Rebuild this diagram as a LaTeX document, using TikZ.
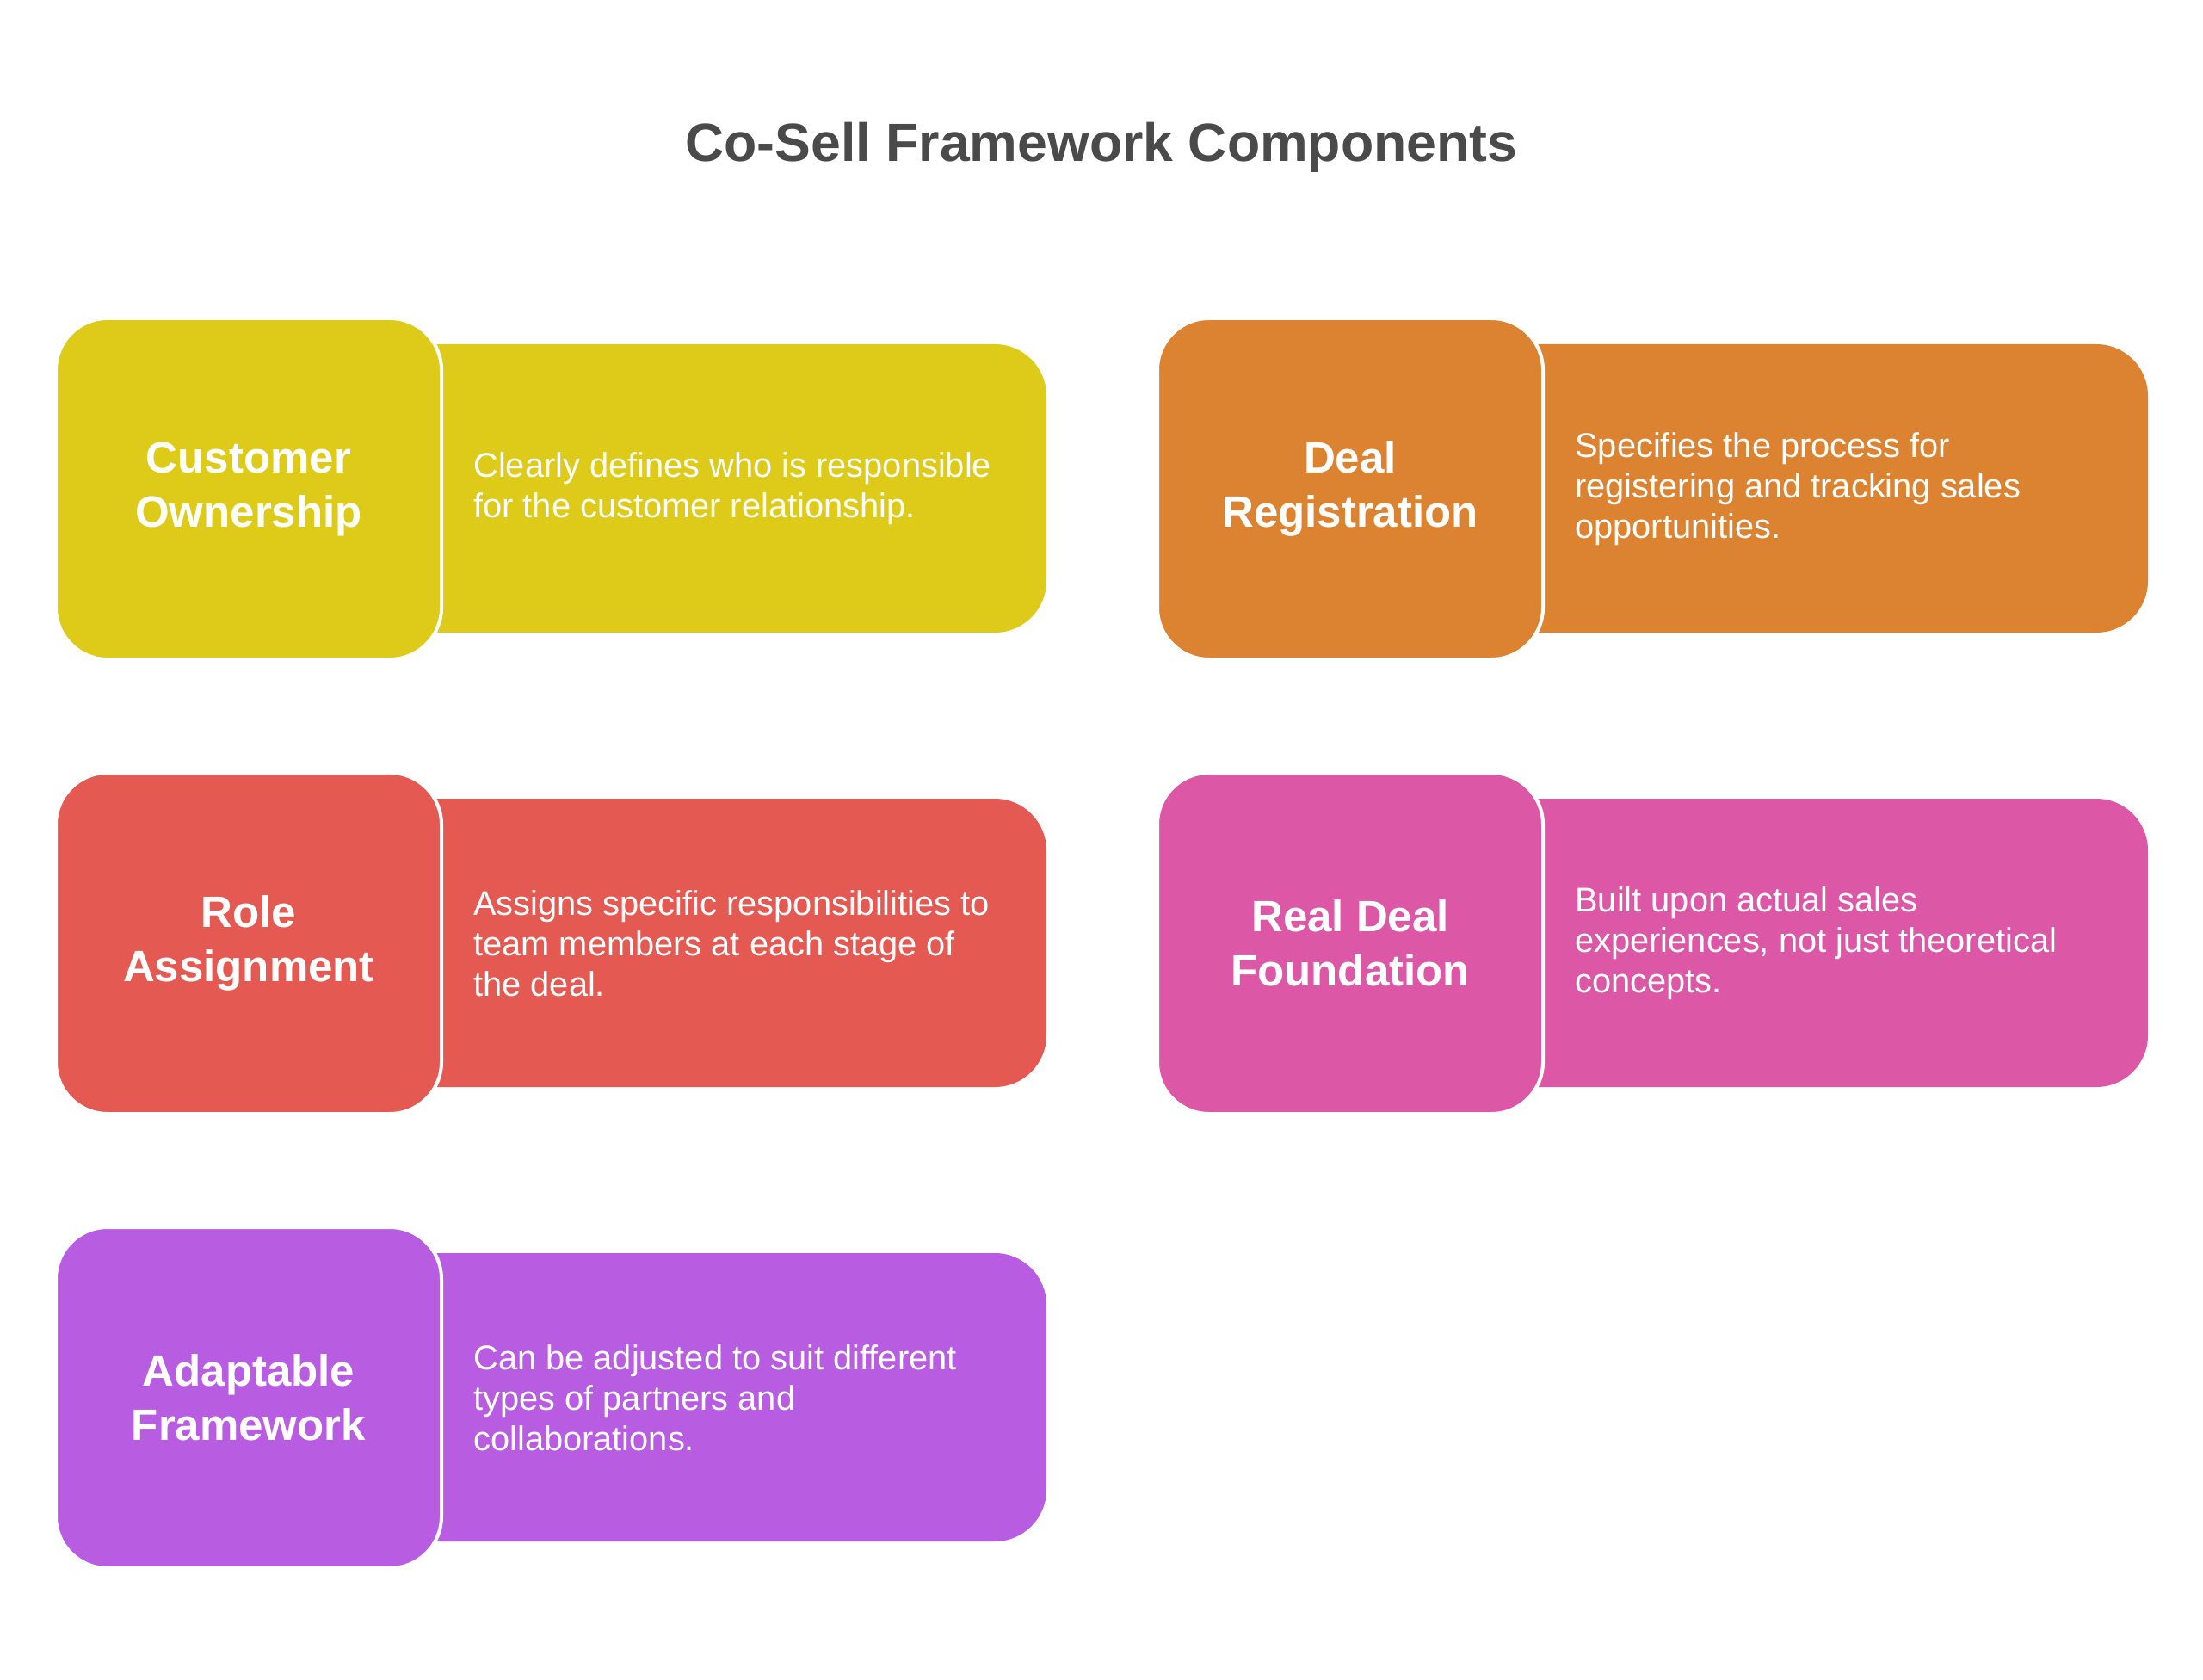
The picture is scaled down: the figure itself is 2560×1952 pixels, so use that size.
\documentclass[tikz,border=0pt]{standalone}
\usepackage{fontspec}
\setmainfont{Liberation Sans}
\definecolor{cyel}{HTML}{DDCA19}
\definecolor{corg}{HTML}{DC8332}
\definecolor{cred}{HTML}{E55953}
\definecolor{cpnk}{HTML}{DC58A6}
\definecolor{cprp}{HTML}{B85DE2}
\definecolor{ctitle}{HTML}{4A4A4A}
\begin{document}
\begin{tikzpicture}[x=0.5pt,y=-0.5pt,
  headbox/.style={draw=white, line width=2pt, rounded corners=30pt,
    minimum width=224pt, minimum height=198pt, inner sep=0pt,
    text=white, align=center, font=\fontsize{25.5}{31.5}\selectfont\bfseries},
  descbox/.style={rounded corners=30pt, minimum width=402.5pt,
    minimum height=167.5pt, inner sep=0pt},
  desctext/.style={anchor=west, inner sep=0pt, text=white, align=left,
    font=\fontsize{19.9}{23.5}\selectfont}]
\useasboundingbox (0,0) rectangle (2560,1952);
\node[font=\fontsize{31.3}{38}\selectfont\bfseries, text=ctitle, anchor=base] (title) at (1280,188) {Co-Sell Framework Components};

% Row 1
\node[descbox, fill=cyel] (r1) at (813.5,567.5) {};
\node[headbox, fill=cyel] (h1) at (289,568) {Customer\\Ownership};
\node[desctext] (d1) at (550,568) {Clearly defines who is responsible\\for the customer relationship.};

\node[descbox, fill=corg] (r2) at (2093.5,567.5) {};
\node[headbox, fill=corg] (h2) at (1569,568) {Deal\\Registration};
\node[desctext] (d2) at (1830,568) {Specifies the process for\\registering and tracking sales\\opportunities.};

% Row 2
\node[descbox, fill=cred] (r3) at (813.5,1095.5) {};
\node[headbox, fill=cred] (h3) at (289,1096) {Role\\Assignment};
\node[desctext] (d3) at (550,1096) {Assigns specific responsibilities to\\team members at each stage of\\the deal.};

\node[descbox, fill=cpnk] (r4) at (2093.5,1095.5) {};
\node[headbox, fill=cpnk] (h4) at (1569,1096) {Real Deal\\Foundation};
\node[desctext] (d4) at (1830,1096) {Built upon actual sales\\experiences, not just theoretical\\concepts.};

% Row 3
\node[descbox, fill=cprp] (r5) at (813.5,1623.5) {};
\node[headbox, fill=cprp] (h5) at (289,1624) {Adaptable\\Framework};
\node[desctext] (d5) at (550,1624) {Can be adjusted to suit different\\types of partners and\\collaborations.};
\end{tikzpicture}
\end{document}
